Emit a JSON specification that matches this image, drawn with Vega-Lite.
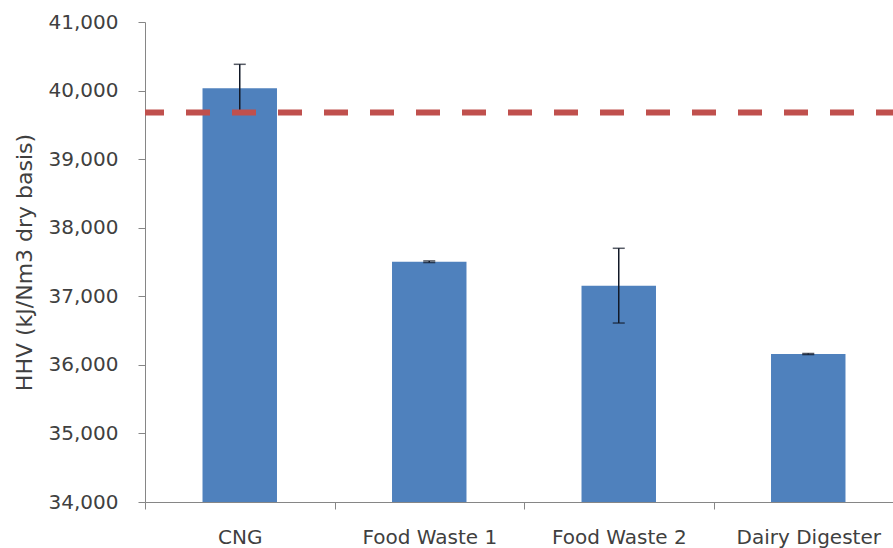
{
  "$schema": "https://vega.github.io/schema/vega-lite/v6.json",
  "width": 748,
  "height": 480,
  "autosize": {"type": "none"},
  "padding": {"left": 145, "top": 22, "right": 0, "bottom": 46},
  "background": "#ffffff",
  "config": {
    "view": {"stroke": null},
    "font": "DejaVu Sans",
    "axis": {
      "domainColor": "#868686",
      "tickColor": "#868686",
      "domainWidth": 1,
      "tickWidth": 1,
      "grid": false,
      "labelColor": "#404040",
      "titleColor": "#404040",
      "labelFont": "DejaVu Sans",
      "titleFont": "DejaVu Sans",
      "labelFontWeight": "normal",
      "titleFontWeight": "normal"
    }
  },
  "datasets": {
    "hhv": [
      {"source": "CNG", "hhv": 40033, "err": 350},
      {"source": "Food Waste 1", "hhv": 37504, "err": 12},
      {"source": "Food Waste 2", "hhv": 37155, "err": 545},
      {"source": "Dairy Digester", "hhv": 36158, "err": 8}
    ],
    "reference": [
      {"hhv": 39680}
    ]
  },
  "layer": [
    {
      "data": {"name": "hhv"},
      "mark": {"type": "bar", "color": "#4F81BD", "clip": true},
      "encoding": {
        "x": {
          "field": "source",
          "type": "nominal",
          "sort": null,
          "title": null,
          "scale": {"range": [0, 758], "paddingInner": 0.607, "paddingOuter": 0.3035},
          "axis": {
            "labelAngle": 0,
            "labelFontSize": 20,
            "labelPadding": 18,
            "tickSize": 7,
            "tickOffset": -94.75,
            "labelOffset": 94.75,
            "labelBaseline": "top"
          }
        },
        "y": {
          "field": "hhv",
          "type": "quantitative",
          "title": "HHV (kJ/Nm3 dry basis)",
          "scale": {"domain": [34000, 41000], "zero": false, "nice": false},
          "axis": {
            "values": [34000, 35000, 36000, 37000, 38000, 39000, 40000, 41000],
            "format": ",d",
            "labelFontSize": 20,
            "labelPadding": 20,
            "tickSize": 7,
            "titleFontSize": 22,
            "titleAngle": -90,
            "titleAlign": "center",
            "titleBaseline": "middle",
            "titleX": -121,
            "titleY": 240
          }
        }
      }
    },
    {
      "data": {"name": "hhv"},
      "mark": {
        "type": "errorbar",
        "color": "#111827",
        "thickness": 1.5,
        "ticks": {"size": 12, "thickness": 1.5, "color": "#111827"}
      },
      "encoding": {
        "x": {"field": "source", "type": "nominal", "sort": null, "title": null},
        "y": {"field": "hhv", "type": "quantitative", "title": "HHV (kJ/Nm3 dry basis)"},
        "yError": {"field": "err"}
      }
    },
    {
      "data": {"name": "reference"},
      "mark": {
        "type": "rule",
        "color": "#C0504D",
        "strokeWidth": 6,
        "strokeDash": [24, 22],
        "strokeDashOffset": 7
      },
      "encoding": {
        "y": {"field": "hhv", "type": "quantitative", "title": "HHV (kJ/Nm3 dry basis)"}
      }
    }
  ]
}
